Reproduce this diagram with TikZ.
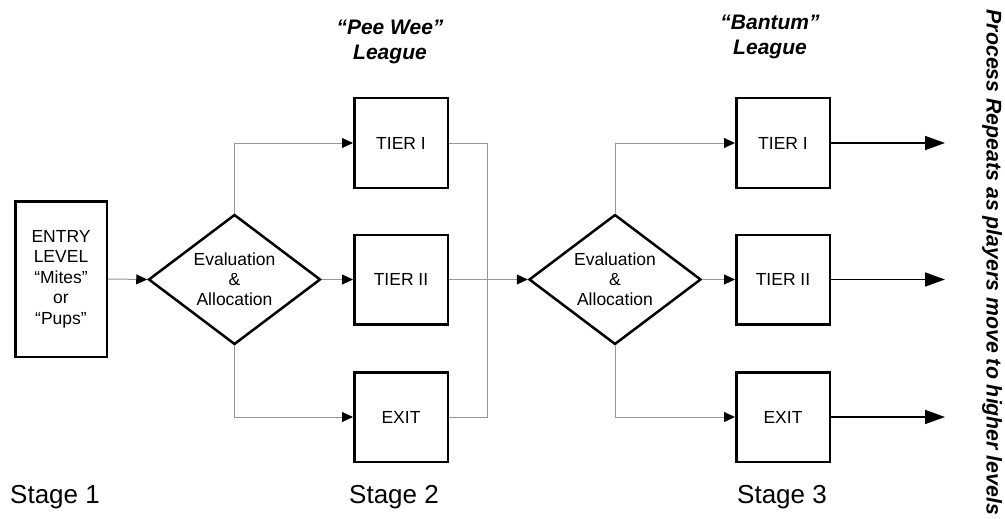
\documentclass[tikz,border=0pt]{standalone}
\usepackage{fontspec}
\setmainfont{Liberation Sans}
\usetikzlibrary{arrows.meta,shapes.geometric}
\definecolor{linegray}{RGB}{150,150,150}
\begin{document}
\begin{tikzpicture}[x=1pt,y=-1pt,
  box/.style={draw=black,line width=2.5pt,rectangle,minimum width=93.5pt,minimum height=89.5pt,inner sep=0pt,font=\fontsize{17.5}{20.5}\selectfont,align=center},
  dia/.style={draw=black,line width=2.5pt,diamond,aspect=1.32,minimum width=172pt,minimum height=130pt,inner sep=0pt,font=\fontsize{17.5}{20}\selectfont,align=center},
  conn/.style={draw=linegray,line width=1pt,-{Triangle[length=11pt,width=10pt,color=black]}},
  gline/.style={draw=linegray,line width=1pt},
  outarr/.style={draw=black,line width=1.6pt,-{Triangle[length=20pt,width=14pt]}},
  head/.style={font=\fontsize{21}{24.5}\selectfont\bfseries\itshape,align=center},
  stage/.style={font=\fontsize{26}{30}\selectfont},
  side/.style={font=\fontsize{21.3}{24}\selectfont\bfseries\itshape,rotate=-90}
]
\useasboundingbox (0,0) rectangle (1005,519);
\fill[white] (0,0) rectangle (1005,519);

% stage 1
\node[box,minimum width=91.5pt,minimum height=155.5pt] (entry) at (61,279) {ENTRY\\LEVEL\\“Mites”\\or\\“Pups”};

% stage 2
\node[dia] (d1) at (234.5,279.5) {Evaluation\\\&\\Allocation};
\node[box] (a1) at (401,143) {TIER I};
\node[box] (a2) at (401,279.5) {TIER II};
\node[box] (a3) at (401,417) {EXIT};
\coordinate (j) at (487,279.5);

% stage 3
\node[dia] (d2) at (615,279.5) {Evaluation\\\&\\Allocation};
\node[box] (b1) at (783,143) {TIER I};
\node[box] (b2) at (783,279.5) {TIER II};
\node[box] (b3) at (783,417) {EXIT};
\coordinate (o1) at (945,143);
\coordinate (o2) at (945,279.5);
\coordinate (o3) at (945,417);

% headings and labels
\node[head] (h1) at (390,42) {“Pee Wee”\\League};
\node[head] (h2) at (770,37) {“Bantum”\\League};
\node[stage] (s1) at (55,497) {Stage 1};
\node[stage] (s2) at (394,497) {Stage 2};
\node[stage] (s3) at (782,497) {Stage 3};
\node[side] (rep) at (992,262.5) {Process Repeats as players move to higher levels};

% connectors
\draw[conn] (entry.east) -- (d1.west);
\draw[conn] (d1.north) |- (a1.west);
\draw[conn] (d1.east) -- (a2.west);
\draw[conn] (d1.south) |- (a3.west);
\draw[gline] (a1.east) -| (j);
\draw[gline] (a3.east) -| (j);
\draw[conn] (a2.east) -- (d2.west);
\draw[conn] (d2.north) |- (b1.west);
\draw[conn] (d2.east) -- (b2.west);
\draw[conn] (d2.south) |- (b3.west);
\draw[outarr] (b1.east) -- (o1);
\draw[outarr] (b2.east) -- (o2);
\draw[outarr] (b3.east) -- (o3);
\end{tikzpicture}
\end{document}
